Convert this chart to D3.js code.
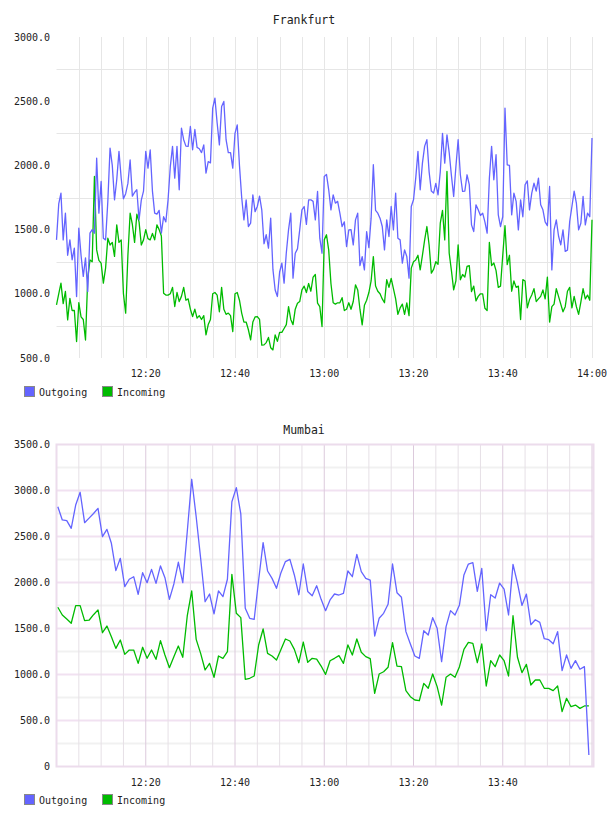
<!DOCTYPE html>
<html>
<head>
<meta charset="utf-8">
<script src="https://d3js.org/d3.v7.min.js"></script>
<style>
  body { margin: 0; background: #fff; }
  svg text { font-family: "DejaVu Sans Mono", monospace; fill: #222; }
</style>
</head>
<body>
<div id="charts"></div>
<script>
const BLUE = "#6464ff";
const GREEN = "#00bb00";
const GRID_GREY = "#e6e6e6";
const FRAME_PINK = "#ecdcec";
const MAJOR_PINK = "#f1e1f1";
const MINOR_GREY = "#f1f1f1";
const V_MAJOR = "#dccadc";
const V_MINOR = "#e6e0e6";

// Frankfurt: one sample every 30 s from 12:00
const frankfurtOutgoing = [
  1420,1700,1784,1420,1628,1300,1420,1265,1355,979,
  1511,1300,1135,1280,1018,1472,1500,1472,2057,1628,
  1875,1433,1420,1719,2135,2000,1732,1888,2109,1900,
  1740,1780,1860,2042,1760,1790,1810,1576,1730,1800,
  2109,1979,2120,1800,1628,1620,1650,1472,1600,1560,
  1732,1990,2148,1901,2148,1810,2290,2200,2150,2148,
  2303,2122,2280,2140,2130,2100,2160,1940,2030,2020,
  2446,2524,2330,2160,2459,2498,2200,2100,2100,1979,
  2250,2316,2000,1750,1576,1732,1524,
  1550,1771,1640,1680,1760,1654,1390,1460,1355,1589,
  1190,1030,979,1170,1239,1083,1320,1500,1628,1122,
  1316,1350,1498,1654,1680,1540,1732,1732,1720,1576,
  1797,1433,1316,1914,1930,1810,1654,1771,1706,1720,
  1628,1524,1560,1368,1498,1500,1381,1576,1628,1219,
  1290,1186,1485,1360,1589,2005,1650,1628,1589,1524,
  1342,1576,1446,1680,1498,1784,1433,1420,1239,1342,
  1290,1122,1680,1732,1901,2109,
  1810,2018,2150,2200,1950,1800,1784,1860,1771,1950,
  2250,2018,2238,2100,1920,1758,1990,2200,1927,1797,
  1800,1927,1850,1537,1485,1693,1654,1610,1628,1560,
  1472,1900,2148,1888,2083,1615,1524,1600,2446,2005,
  2000,1615,1784,1720,1498,1732,1600,1849,1880,1654,
  1784,1862,1800,1901,1693,1654,1560,1530,1836,1186,
  1498,1576,1450,1381,1498,1330,1340,1563,1680,1800,
  1706,1498,1550,1758,1537,1628,1600,2213
];
const frankfurtIncoming = [
  914,1000,1083,924,1018,797,965,870,870,628,
  932,820,800,640,1122,1264,1250,1914,1342,1260,
  1239,1083,1200,1433,1380,1400,1291,1537,1400,1420,
  1000,849,1300,1628,1540,1400,1620,1560,1380,1420,
  1500,1430,1420,1470,1420,1537,1500,1450,1005,990,
  990,1000,1050,901,1010,940,980,1050,950,960,
  880,823,880,810,830,800,830,680,760,800,
  1000,1010,990,860,1050,880,840,850,830,706,
  1000,1010,950,850,780,780,720,
  641,780,820,823,800,600,602,620,660,580,
  563,680,630,700,700,730,760,900,800,760,
  880,927,940,1030,1060,1010,1080,1020,1130,1150,
  927,900,745,1420,1460,1340,1080,930,920,930,
  930,970,870,880,930,880,940,1070,1030,880,
  758,910,950,1010,1100,1290,1060,1020,1000,960,
  930,1110,1050,1120,1040,960,840,890,920,840,
  930,830,1200,1250,1264,1300,
  1186,1300,1420,1524,1380,1161,1190,1250,1230,1550,
  1650,1420,1953,1316,1180,1030,1100,1381,1109,1150,
  1130,1213,1220,1017,1060,945,980,1000,1000,888,
  870,1400,1220,1240,1180,1050,1060,1300,1530,1227,
  1300,1020,1100,1050,1060,800,1110,1100,890,955,
  990,1040,940,960,980,1030,960,1130,780,900,
  920,1040,980,920,860,900,1020,1050,890,980,
  900,840,935,1040,960,990,950,1576
];

// Mumbai: one sample per minute
const mumbaiOutgoing = [
  2824,2680,2672,2589,2842,2981,2650,2700,2750,2806,
  2498,2578,2426,2129,2263,1955,2035,2063,1872,2107,
  1998,2143,1991,2180,2052,1817,1984,2220,1998,2552,
  3122,2715,2263,1791,1875,1658,1908,1846,2035,2878,
  3031,2745,1720,1611,1600,2027,2433,2125,2045,1937,
  2107,2227,2252,2082,1867,2201,1903,1856,1965,1817,
  1694,1810,1875,1864,1882,2125,2063,2306,2118,2045,
  2027,1418,1611,1665,1763,2201,1889,1839,1466,1331,
  1201,1175,1476,1429,1618,1502,1139,1520,1694,1647,
  1756,2082,2201,2216,1903,2153,1476,1867,1831,1994,
  1929,1647,2197,1994,1751,1874,1541,1595,1566,1389,
  1378,1334,1466,1042,1212,1067,1151,1057,1085,124
];
const mumbaiIncoming = [
  1731,1647,1603,1557,1748,1748,1585,1590,1650,1702,
  1454,1527,1411,1284,1375,1219,1266,1266,1121,1296,
  1176,1266,1165,1368,1212,1074,1194,1310,1187,1636,
  1908,1382,1230,1049,1121,970,1201,1176,1248,2089,
  1665,1618,948,959,984,1321,1495,1230,1201,1157,
  1273,1386,1364,1273,1128,1353,1132,1176,1168,1092,
  1001,1150,1176,1205,1121,1321,1212,1386,1241,1194,
  1172,795,1005,1030,1078,1346,1092,1085,825,759,
  723,715,904,850,1005,868,668,970,1005,970,
  1085,1273,1350,1339,1128,1332,875,1150,1085,1212,
  1150,983,1639,1187,1020,1110,886,940,940,850,
  850,825,875,596,741,650,668,632,658,658
];

const frankfurtYTicks = [500, 1000, 1500, 2000, 2500, 3000];
const mumbaiYTicks = [0, 500, 1000, 1500, 2000, 2500, 3000, 3500];
const frankfurtXTicks = ["12:20", "12:40", "13:00", "13:20", "13:40", "14:00"];
const mumbaiXTicks = ["12:20", "12:40", "13:00", "13:20", "13:40"];
const seriesNames = ["Outgoing", "Incoming"];

var parseTime = d3.timeParse("%H:%M");
var svg = d3.select("#charts").append("svg")
  .attr("width", 608)
  .attr("height", 816);

function drawChart(c) {
  var x = d3.scaleTime()
    .domain([parseTime("12:00"), parseTime("14:00")])
    .range([56.5, 592]);
  var y = d3.scaleLinear()
    .domain(c.yDomain)
    .range([c.bottom, c.top]);
  var g = svg.append("g");
  var start = parseTime("12:00").getTime();
  var times = c.outgoing.map((d, i) => new Date(start + (c.offset + i * c.step) * 60000));
  var fiveMin = x.ticks(d3.timeMinute.every(5)).filter(t => t > x.domain()[0]);

  if (c.framed) {
    // every 250 a line, pink on the labelled values
    d3.range(c.yDomain[0] + 250, c.yDomain[1], 250).forEach(v => {
      g.append("line")
        .attr("x1", 56.5).attr("x2", 593.5)
        .attr("y1", y(v)).attr("y2", y(v))
        .attr("stroke", v % 500 == 0 ? MAJOR_PINK : MINOR_GREY)
        .attr("stroke-width", 2);
    });
    fiveMin.forEach(t => {
      g.append("line")
        .attr("x1", x(t)).attr("x2", x(t))
        .attr("y1", c.top).attr("y2", c.bottom)
        .attr("stroke", t.getMinutes() % 20 == 0 ? V_MAJOR : V_MINOR);
    });
    g.append("rect")
      .attr("x", 56.5).attr("y", c.top)
      .attr("width", 537).attr("height", c.bottom - c.top)
      .attr("fill", "none")
      .attr("stroke", FRAME_PINK)
      .attr("stroke-width", 2);
  } else {
    // grid sits half way between the labels
    c.yTicks.slice(0, -1).forEach(v => {
      g.append("line")
        .attr("x1", 56.5).attr("x2", 593)
        .attr("y1", Math.round(y(v + 250)) + 0.5).attr("y2", Math.round(y(v + 250)) + 0.5)
        .attr("stroke", GRID_GREY);
    });
    fiveMin.forEach(t => {
      g.append("line")
        .attr("x1", Math.round(x(t)) + 0.5).attr("x2", Math.round(x(t)) + 0.5)
        .attr("y1", c.top).attr("y2", c.bottom)
        .attr("stroke", GRID_GREY);
    });
  }

  g.append("text")
    .attr("x", 304)
    .attr("y", c.titleY)
    .attr("text-anchor", "middle")
    .attr("dy", "0.35em")
    .style("font-size", "11.5px")
    .text(c.title);

  g.selectAll(".ylab")
    .data(c.yTicks)
    .enter().append("text")
    .attr("x", 50)
    .attr("y", d => y(d))
    .attr("dy", "0.35em")
    .attr("text-anchor", "end")
    .style("font-size", "10px")
    .text(d => d == 0 ? "0" : d.toFixed(1));

  g.selectAll(".xlab")
    .data(c.xTicks)
    .enter().append("text")
    .attr("x", d => x(parseTime(d)))
    .attr("y", c.xLabelY)
    .attr("dy", "0.35em")
    .attr("text-anchor", "middle")
    .style("font-size", "10px")
    .text(d => d);

  var line = d3.line()
    .x((d, i) => x(times[i]))
    .y(d => y(d));

  [[c.outgoing, BLUE], [c.incoming, GREEN]].reverse().forEach(s => {
    g.append("path")
      .datum(s[0])
      .attr("d", line)
      .attr("fill", "none")
      .attr("stroke", s[1])
      .attr("stroke-width", 1.3)
      .attr("stroke-linejoin", "round");
  });

  var legendX = [24, 102];
  seriesNames.forEach((name, i) => {
    g.append("rect")
      .attr("x", legendX[i] + 0.5)
      .attr("y", c.legendY - 5.5)
      .attr("width", 10)
      .attr("height", 10)
      .attr("fill", i == 0 ? BLUE : GREEN)
      .attr("stroke", "#888");
    g.append("text")
      .attr("x", legendX[i] + 15)
      .attr("y", c.legendY)
      .attr("dy", "0.35em")
      .style("font-size", "10px")
      .text(name);
  });
}

drawChart({
  title: "Frankfurt", titleY: 20,
  top: 37, bottom: 358, yDomain: [500, 3000],
  yTicks: frankfurtYTicks, xTicks: frankfurtXTicks, xLabelY: 373,
  outgoing: frankfurtOutgoing, incoming: frankfurtIncoming,
  offset: 0, step: 0.5, framed: false, legendY: 392
});

drawChart({
  title: "Mumbai", titleY: 430,
  top: 444.5, bottom: 766.5, yDomain: [0, 3500],
  yTicks: mumbaiYTicks, xTicks: mumbaiXTicks, xLabelY: 782,
  outgoing: mumbaiOutgoing, incoming: mumbaiIncoming,
  offset: 0.3, step: 1, framed: true, legendY: 800
});
</script>
</body>
</html>
